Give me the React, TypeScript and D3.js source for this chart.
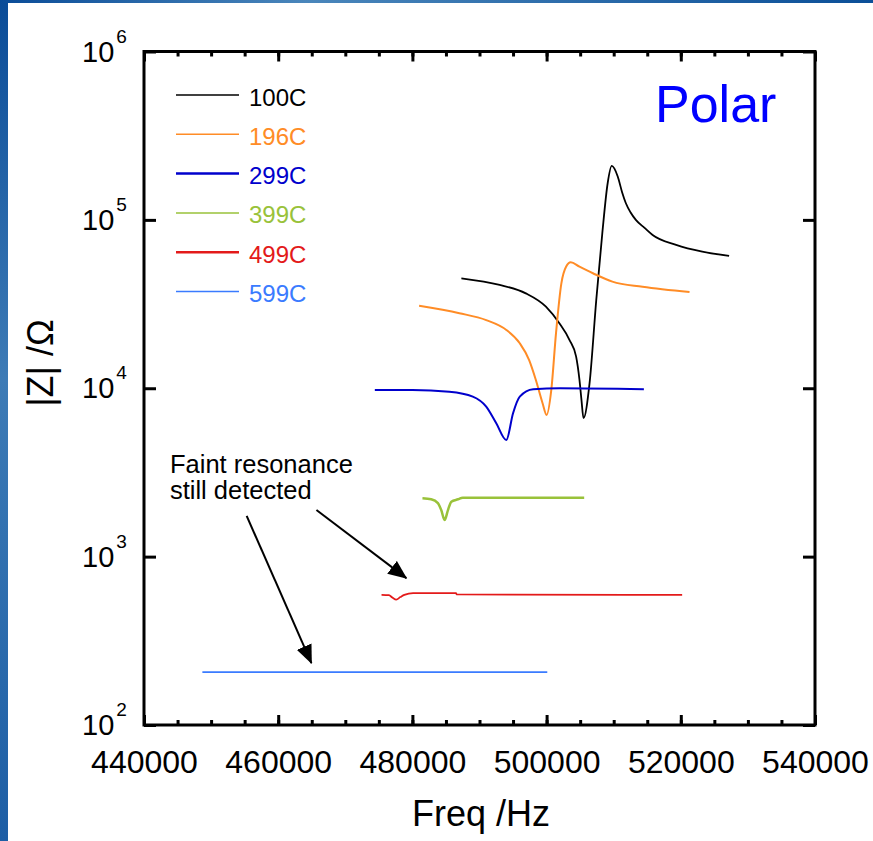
import * as d3 from "d3";
import { useEffect, useRef } from "react";

const W = 873;
const H = 841;
const plot = { left: 144, right: 815, top: 51.5, bottom: 725 };

// frequency (Hz) / impedance magnitude (ohm) for each temperature
const freq100 = [487300, 493000, 496900, 499900, 501900, 503400, 504400, 504900, 505200, 505500, 506400, 507400, 508300, 509100, 509700, 510600, 511250, 511800, 512500, 513300, 514600, 515800, 519300, 523200, 527200];
const z100 = [45000, 41100, 36600, 30500, 24300, 19400, 15400, 11200, 8510, 6640, 10700, 33400, 83200, 165000, 209000, 181000, 146000, 126000, 111000, 100000, 89600, 81300, 71000, 64700, 61100];

const freq196 = [481000, 487000, 491000, 494000, 496000, 497400, 498400, 499400, 500000, 500700, 501400, 502200, 502900, 503600, 504900, 506900, 509800, 514300, 521300];
const z196 = [30900, 27900, 25400, 22200, 18500, 14700, 11200, 8150, 6940, 9770, 21200, 42000, 52700, 56000, 52700, 48200, 43000, 40100, 37300];

const freq299 = [474400, 480000, 485500, 489000, 491000, 492500, 494000, 495000, 496000, 498000, 502000, 514500];
const z299 = [9770, 9770, 9540, 8920, 7780, 6200, 4930, 7110, 8920, 9870, 10000, 9870];

const freq399 = [481500, 482800, 483800, 484300, 484800, 485300, 485800, 486800, 487500, 505600];
const z399 = [2220, 2190, 2080, 1890, 1650, 1890, 2120, 2190, 2240, 2240];

const freq499 = [475400, 476500, 477000, 477600, 478200, 478800, 480100, 486500, 486600, 520200];
const z499 = [593, 590, 572, 556, 575, 593, 607, 607, 596, 593];

const freq599 = [448700, 500100];
const z599 = [206, 206];

const seriesNames = ["100C", "196C", "299C", "399C", "499C", "599C"];
const seriesColors = ["#000000", "#ff8c26", "#0000cc", "#99c23a", "#e31a1a", "#3a7bff"];
const lineWidths = [1.8, 2, 2, 2.5, 1.8, 1.8];
const legendWidths = [1.5, 1.5, 2.5, 1.5, 2.5, 1.5];
const seriesFreq = [freq100, freq196, freq299, freq399, freq499, freq599];
const seriesZ = [z100, z196, z299, z399, z499, z599];

const xTicks = [440000, 460000, 480000, 500000, 520000, 540000];
const yTicks = [2, 3, 4, 5, 6];

// annotation anchors in data units
const noteAt = { f: 443870, z: 3140 };
const arrows = [
  { from: { f: 455300, z: 1745 }, to: { f: 464950, z: 233 } },
  { from: { f: 465700, z: 1890 }, to: { f: 479100, z: 745 } },
];

const font = "'Liberation Sans', Arial, sans-serif";

const App = () => {
  const svgRef = useRef<SVGSVGElement | null>(null);

  useEffect(() => {
    const svg = d3.select(svgRef.current);
    svg.selectAll("*").remove();

    const x = d3.scaleLinear().domain([440000, 540000]).range([plot.left, plot.right]);
    const y = d3.scaleLog().domain([100, 1e6]).range([plot.bottom, plot.top]);

    // slide background strips
    const defs = svg.append("defs");
    const gl = defs.append("linearGradient").attr("id", "leftStrip").attr("x1", 0).attr("y1", 0).attr("x2", 0).attr("y2", 1);
    gl.append("stop").attr("offset", "0%").attr("stop-color", "#0a4c98");
    gl.append("stop").attr("offset", "45%").attr("stop-color", "#3d7bb6");
    gl.append("stop").attr("offset", "100%").attr("stop-color", "#1d5ea5");
    const gt = defs.append("linearGradient").attr("id", "topStrip").attr("x1", 0).attr("y1", 0).attr("x2", 1).attr("y2", 0);
    gt.append("stop").attr("offset", "0%").attr("stop-color", "#0a4c98");
    gt.append("stop").attr("offset", "35%").attr("stop-color", "#4a86bb");
    gt.append("stop").attr("offset", "100%").attr("stop-color", "#0b4f98");
    defs
      .append("marker")
      .attr("id", "arrowHead")
      .attr("markerUnits", "userSpaceOnUse")
      .attr("markerWidth", 20)
      .attr("markerHeight", 16)
      .attr("refX", 18)
      .attr("refY", 8)
      .attr("orient", "auto")
      .append("path")
      .attr("d", "M0,0 L19,8 L0,16 Z")
      .attr("fill", "#000");

    svg.append("rect").attr("width", W).attr("height", H).attr("fill", "#ffffff");
    svg.append("rect").attr("width", 8).attr("height", H).attr("fill", "url(#leftStrip)");
    svg.append("rect").attr("width", W).attr("height", 3).attr("fill", "url(#topStrip)");

    // axes (ticks point inward)
    const minorX = d3.range(440000, 540001, 5000);
    svg
      .append("g")
      .attr("transform", `translate(0,${plot.bottom})`)
      .call(d3.axisBottom(x).tickValues(minorX).tickSize(-5).tickFormat(() => ""))
      .call((g) => g.select(".domain").remove());
    svg
      .append("g")
      .attr("transform", `translate(0,${plot.top})`)
      .call(d3.axisTop(x).tickValues(minorX).tickSize(-5).tickFormat(() => ""))
      .call((g) => g.select(".domain").remove());
    svg
      .append("g")
      .attr("transform", `translate(0,${plot.bottom})`)
      .call(d3.axisBottom(x).tickValues(xTicks).tickSize(-10).tickPadding(25).tickFormat(d3.format("d")))
      .call((g) => g.select(".domain").remove())
      .call((g) => g.selectAll("text").attr("font-size", 32).attr("font-family", font).attr("fill", "#000"));
    svg
      .append("g")
      .attr("transform", `translate(0,${plot.top})`)
      .call(d3.axisTop(x).tickValues(xTicks).tickSize(-10).tickFormat(() => ""))
      .call((g) => g.select(".domain").remove());

    const yVals = yTicks.map((e) => Math.pow(10, e));
    svg
      .append("g")
      .attr("transform", `translate(${plot.left},0)`)
      .call(d3.axisLeft(y).tickValues(yVals).tickSize(-12).tickFormat(() => ""))
      .call((g) => g.select(".domain").remove());
    svg
      .append("g")
      .attr("transform", `translate(${plot.right},0)`)
      .call(d3.axisRight(y).tickValues(yVals).tickSize(-12).tickFormat(() => ""))
      .call((g) => g.select(".domain").remove());
    svg.selectAll(".tick line").attr("stroke", "#000").attr("stroke-width", 3);

    // y tick labels as powers of ten
    const yLab = svg
      .append("g")
      .selectAll("text")
      .data(yTicks)
      .join("text")
      .attr("x", 82)
      .attr("y", (d) => y(Math.pow(10, d)) + 10)
      .attr("font-family", font)
      .attr("font-size", 29)
      .attr("fill", "#000");
    yLab.append("tspan").text("10");
    yLab
      .append("tspan")
      .attr("dx", 2)
      .attr("dy", -19)
      .attr("font-size", 19)
      .text((d) => d);

    // frame
    svg
      .append("rect")
      .attr("x", plot.left)
      .attr("y", plot.top)
      .attr("width", plot.right - plot.left)
      .attr("height", plot.bottom - plot.top)
      .attr("fill", "none")
      .attr("stroke", "#000")
      .attr("stroke-width", 3);

    // data lines
    const line = d3
      .line<[number, number]>()
      .x((d) => x(d[0]))
      .y((d) => y(d[1]))
      .curve(d3.curveMonotoneX);
    seriesFreq.forEach((fs, i) => {
      const pts = fs.map((f, j) => [f, seriesZ[i][j]] as [number, number]);
      svg
        .append("path")
        .attr("d", line(pts))
        .attr("fill", "none")
        .attr("stroke", seriesColors[i])
        .attr("stroke-width", lineWidths[i])
        .attr("stroke-linejoin", "round");
    });

    // legend
    const lg = svg
      .append("g")
      .selectAll("g")
      .data(seriesNames)
      .join("g")
      .attr("transform", (d, i) => `translate(176,${95 + i * 39.3})`);
    lg.append("line")
      .attr("x1", 0)
      .attr("x2", 63)
      .attr("stroke", (d, i) => seriesColors[i])
      .attr("stroke-width", (d, i) => legendWidths[i]);
    lg.append("text")
      .attr("x", 73)
      .attr("y", 10.5)
      .attr("font-family", font)
      .attr("font-size", 24)
      .attr("fill", (d, i) => seriesColors[i])
      .text((d) => d);

    // annotation
    const note = svg
      .append("text")
      .attr("font-family", font)
      .attr("font-size", 25.5)
      .attr("fill", "#000");
    note.append("tspan").attr("x", x(noteAt.f)).attr("y", y(noteAt.z)).text("Faint resonance");
    note.append("tspan").attr("x", x(noteAt.f)).attr("dy", 26).text("still detected");
    arrows.forEach((a) => {
      svg
        .append("line")
        .attr("x1", x(a.from.f))
        .attr("y1", y(a.from.z))
        .attr("x2", x(a.to.f))
        .attr("y2", y(a.to.z))
        .attr("stroke", "#000")
        .attr("stroke-width", 2)
        .attr("marker-end", "url(#arrowHead)");
    });

    svg
      .append("text")
      .attr("x", 655)
      .attr("y", 122)
      .attr("font-family", font)
      .attr("font-size", 52)
      .attr("fill", "#0000ff")
      .text("Polar");

    // axis titles
    svg
      .append("text")
      .attr("x", 481)
      .attr("y", 826)
      .attr("text-anchor", "middle")
      .attr("font-family", font)
      .attr("font-size", 36)
      .attr("fill", "#000")
      .text("Freq /Hz");
    svg
      .append("text")
      .attr("transform", "translate(53,363) rotate(-90)")
      .attr("text-anchor", "middle")
      .attr("font-family", font)
      .attr("font-size", 36)
      .attr("fill", "#000")
      .text("|Z| /Ω");
  }, []);

  return (
    <svg
      ref={svgRef}
      width={W}
      height={H}
      style={{ position: "absolute", left: 0, top: 0, display: "block" }}
    />
  );
};

export default App;
